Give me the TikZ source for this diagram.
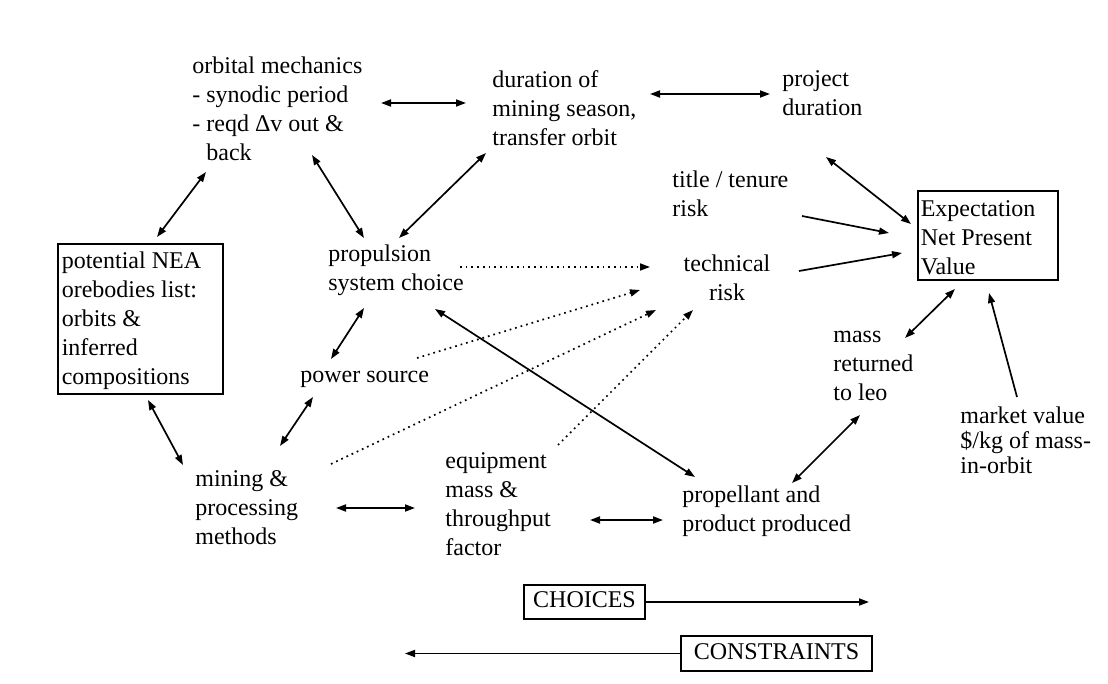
\documentclass[tikz,border=0pt]{standalone}
\usepackage{fontspec}
\setmainfont{Liberation Serif}
\usetikzlibrary{arrows.meta}
\begin{document}
\begin{tikzpicture}[x=0.5pt,y=-0.5pt,>={Triangle[length=5pt,width=3.5pt]},
  txt/.style={anchor=north west,inner sep=0pt,align=left,
    font=\fontsize{12}{14.5}\selectfont,execute at begin node=\strut},
  box/.style={draw,line width=0.8pt,inner xsep=2pt,inner ysep=1pt,align=flush left,
    font=\fontsize{12}{14.5}\selectfont,execute at begin node=\strut},
  link/.style={line width=0.85pt},
  hint/.style={line width=0.85pt,dotted}]
\useasboundingbox (0,0) rectangle (1108,684);

% boxes
\node[box,anchor=north west,text width=78.5pt,minimum height=75pt] (nea) at (57,243)
  {potential NEA\\orebodies list:\\orbits \&\\inferred\\compositions};
\node[box,anchor=north west,text width=67pt,minimum height=44.5pt,inner xsep=1.5pt,inner ysep=0.5pt] (enpv) at (917,190)
  {Expectation\\Net Present\\Value};
\node[box,align=center,minimum width=60.5pt,minimum height=17pt] (choices) at (584.5,602) {CHOICES};
\node[box,align=center,minimum width=95.5pt,minimum height=17.5pt] (constraints) at (776.5,653.5) {CONSTRAINTS};

% plain texts
\node[txt] (orbit) at (192,56) {orbital mechanics\\- synodic period\\- reqd Δv out \&\\\phantom{- }back};
\node[txt] (duration) at (492,70) {duration of\\mining season,\\transfer orbit};
\node[txt] (project) at (782,70) {project\\duration};
\node[txt] (title) at (672,170) {title / tenure\\risk};
\node[txt,anchor=north,align=center] (technical) at (727,254) {technical\\risk};
\node[txt] (propulsion) at (328,244) {propulsion\\system choice};
\node[txt] (power) at (300,362) {power source};
\node[txt] (mining) at (195,470) {mining \&\\processing\\methods};
\node[txt] (equipment) at (445,452) {equipment\\mass \&\\throughput\\factor};
\node[txt] (propellant) at (682,485) {propellant and\\product produced};
\node[txt] (mass) at (833,331) {mass\\returned\\to leo};
\node[txt,font=\fontsize{12}{12.5}\selectfont] (market) at (960,406) {market value\\\$/kg of mass-\\in-orbit};

% two-way links
\draw[link,<->] ([shift={(100,-6)}]nea.north west) -- ([shift={(14,116)}]orbit.north west);
\draw[link,<->] ([shift={(189,47)}]orbit.north west) -- ([shift={(-26,33)}]duration.north west);
\draw[link,<->] ([shift={(158,24)}]duration.north west) -- ([shift={(-12,24)}]project.north west);
\draw[link,<->] ([shift={(120,99)}]orbit.north west) -- ([shift={(36,-6)}]propulsion.north west);
\draw[link,<->] ([shift={(-6,83)}]duration.north west) -- ([shift={(71,-6)}]propulsion.north west);
\draw[link,<->] ([shift={(36,64)}]propulsion.north west) -- ([shift={(31,-3)}]power.north west);
\draw[link,<->] ([shift={(91,157)}]nea.north west) -- ([shift={(-12,-5)}]mining.north west);
\draw[link,<->] ([shift={(13,35)}]power.north west) -- ([shift={(85,-24)}]mining.north west);
\draw[link,<->] ([shift={(141,38)}]mining.north west) -- ([shift={(-30,56)}]equipment.north west);
\draw[link,<->] ([shift={(145,68)}]equipment.north west) -- ([shift={(-19,35)}]propellant.north west);
\draw[link,<->] ([shift={(107,65)}]propulsion.north west) -- ([shift={(13,-8)}]propellant.north west);
\draw[link,<->] ([shift={(110,-2)}]propellant.north west) -- ([shift={(27,84)}]mass.north west);
\draw[link,<->] ([shift={(72,7)}]mass.north west) -- ([shift={(38,99)}]enpv.north west);
\draw[link,<->] ([shift={(44,87)}]project.north west) -- ([shift={(-6,34)}]enpv.north west);

% one-way links
\draw[link,->] ([shift={(130,46)}]title.north west) -- ([shift={(-28,43)}]enpv.north west);
\draw[link,->] ([shift={(72,17)}]technical.north) -- ([shift={(-15,63)}]enpv.north west);
\draw[link,->] ([shift={(57,-9)}]market.north west) -- ([shift={(72,103)}]enpv.north west);

% dotted links to the technical risk
\draw[hint,->] ([shift={(132,23)}]propulsion.north west) -- ([shift={(-77,13)}]technical.north);
\draw[hint,->] ([shift={(117,-4)}]power.north west) -- ([shift={(-87,36)}]technical.north);
\draw[hint,->] ([shift={(136,-6)}]mining.north west) -- ([shift={(-71,56)}]technical.north);
\draw[hint,->] ([shift={(113,-7)}]equipment.north west) -- ([shift={(-34,56)}]technical.north);

% legend
\coordinate (choicesEnd) at (869,602);
\coordinate (constraintsEnd) at (405,653.5);
\draw[link,->] (choices.east) -- (choicesEnd);
\draw[link,->] (constraints.west) -- (constraintsEnd);
\end{tikzpicture}
\end{document}
